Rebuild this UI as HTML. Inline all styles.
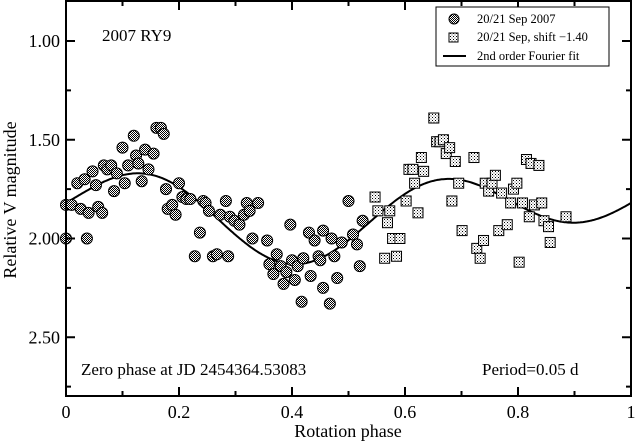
<!DOCTYPE html>
<html><head><meta charset="utf-8"><style>
html,body{margin:0;padding:0;background:#fff;}
svg{display:block;font-family:"Liberation Serif",serif;}
</style></head><body>
<svg id="chart" width="635" height="441" viewBox="0 0 635 441" xmlns="http://www.w3.org/2000/svg">
<defs>
<pattern id="pc" width="2" height="2" patternUnits="userSpaceOnUse"><rect width="2" height="2" fill="#fff"/><rect width="1" height="1" fill="#000"/><rect x="1" y="1" width="1" height="1" fill="#000"/></pattern>
<pattern id="ps" width="3" height="3" patternUnits="userSpaceOnUse"><rect width="3" height="3" fill="#fff"/><rect width="1" height="1" fill="#000"/><rect x="1.5" y="1.5" width="1" height="1" fill="#555"/></pattern>
</defs>
<g id="marks"></g>
<g id="axes"></g>
</svg>
<script>
const circlePhase=[0,0,0.01,0.02,0.026,0.033,0.037,0.04,0.047,0.053,0.057,0.064,0.067,0.073,0.08,0.085,0.09,0.1,0.104,0.11,0.12,0.124,0.128,0.134,0.14,0.146,0.155,0.16,0.168,0.173,0.177,0.18,0.188,0.194,0.2,0.206,0.213,0.22,0.228,0.237,0.243,0.247,0.253,0.26,0.267,0.273,0.283,0.287,0.29,0.298,0.307,0.315,0.32,0.325,0.33,0.34,0.356,0.36,0.367,0.373,0.38,0.385,0.39,0.397,0.4,0.405,0.41,0.417,0.42,0.43,0.433,0.44,0.447,0.45,0.455,0.455,0.467,0.47,0.475,0.48,0.488,0.5,0.508,0.515,0.52,0.525];
const circleMag=[1.83,2.00,1.83,1.72,1.85,1.70,2.00,1.87,1.66,1.73,1.84,1.87,1.63,1.65,1.63,1.76,1.67,1.54,1.72,1.63,1.48,1.58,1.62,1.71,1.55,1.65,1.57,1.44,1.44,1.47,1.75,1.85,1.83,1.88,1.72,1.79,1.80,1.80,2.09,1.97,1.81,1.82,1.86,2.09,2.08,1.88,1.81,2.09,1.89,1.91,1.93,1.88,1.82,1.86,2.00,1.82,2.01,2.13,2.18,2.08,2.14,2.23,2.17,1.93,2.11,2.21,2.14,2.32,2.10,1.97,2.19,2.01,2.09,2.11,1.96,2.25,2.33,2.00,2.09,2.20,2.02,1.81,1.98,2.03,2.14,1.91];
const squarePhase=[0.547,0.552,0.564,0.569,0.573,0.578,0.585,0.591,0.602,0.607,0.614,0.617,0.623,0.629,0.633,0.651,0.656,0.662,0.668,0.673,0.679,0.683,0.689,0.695,0.701,0.722,0.727,0.733,0.739,0.742,0.748,0.754,0.76,0.766,0.771,0.781,0.787,0.792,0.798,0.802,0.808,0.815,0.82,0.823,0.829,0.837,0.842,0.846,0.854,0.857,0.885];
const squareMag=[1.79,1.86,2.10,1.92,1.86,2.00,2.09,2.00,1.81,1.65,1.65,1.72,1.87,1.59,1.66,1.39,1.51,1.51,1.50,1.57,1.54,1.81,1.61,1.72,1.96,1.59,2.05,2.10,2.01,1.72,1.76,1.72,1.68,1.96,1.77,1.93,1.82,1.75,1.72,2.12,1.82,1.60,1.89,1.62,1.83,1.63,1.82,1.91,1.94,2.02,1.89];
// Fourier fit coefficients: a0, a1, b1, a2, b2
const fitCoef=[1.8587,-0.0942,0.0490,0.0555,-0.1568];
const xTicks=[0,0.2,0.4,0.6,0.8,1];
const xTickLabels=["0","0.2","0.4","0.6","0.8","1"];
const yTicks=[1.0,1.5,2.0,2.5];
const yTickLabels=["1.00","1.50","2.00","2.50"];

const L=66,R=631,T=1,B=396;
const X=v=>L+v*(R-L);
const Y=m=>41+(m-1)*197.5;
const NS="http://www.w3.org/2000/svg";
function mk(tag,attrs,parent){const e=document.createElementNS(NS,tag);for(const k in attrs)e.setAttribute(k,attrs[k]);parent.appendChild(e);return e;}
const marks=document.getElementById('marks'),axes=document.getElementById('axes');

let d="";
for(let i=0;i<=400;i++){const p=i/400;const w=2*Math.PI*p;
const m=fitCoef[0]+fitCoef[1]*Math.cos(w)+fitCoef[2]*Math.sin(w)+fitCoef[3]*Math.cos(2*w)+fitCoef[4]*Math.sin(2*w);
d+=(i?"L":"M")+X(p).toFixed(1)+","+Y(m).toFixed(1);}
const fit=mk('path',{d:d,fill:"none",stroke:"#000","stroke-width":2},marks);



circlePhase.forEach((p,i)=>{const c=mk('circle',{cx:X(p),cy:Y(circleMag[i]),r:5.5,fill:"url(#pc)",stroke:"#000","stroke-width":1},marks);

});
squarePhase.forEach((p,i)=>{const s=mk('rect',{x:X(p)-5,y:Y(squareMag[i])-5,width:10,height:10,fill:"url(#ps)",stroke:"#000","stroke-width":1},marks);

});

const fr=mk('rect',{x:L,y:T,width:R-L,height:B-T,fill:"none",stroke:"#000","stroke-width":2},axes);


for(let v=0;v<=1.0001;v+=0.1){const x=X(v);const major=Math.round(v*10)%2==0;const len=major?9:5;
mk('line',{x1:x,y1:B,x2:x,y2:B-len,stroke:"#000","stroke-width":2},axes);
mk('line',{x1:x,y1:T,x2:x,y2:T+len,stroke:"#000","stroke-width":2},axes);}
xTicks.forEach((v,i)=>{const t=mk('text',{x:X(v),y:418,"text-anchor":"middle","font-size":18},axes);t.textContent=xTickLabels[i];

});
for(let m=1.0;m<=2.76;m+=0.25){const y=Y(m);const major=Math.round(m*4)%2==0;const len=major?9:5;
mk('line',{x1:L,y1:y,x2:L+len,y2:y,stroke:"#000","stroke-width":2},axes);
mk('line',{x1:R,y1:y,x2:R-len,y2:y,stroke:"#000","stroke-width":2},axes);}
yTicks.forEach((v,i)=>{const t=mk('text',{x:60,y:Y(v)+6,"text-anchor":"end","font-size":18},axes);t.textContent=yTickLabels[i];

});
</script>
<svg style="position:absolute;left:0;top:0" width="635" height="441">
<text x="348" y="437" text-anchor="middle" font-size="18" font-family="Liberation Serif, serif">Rotation phase</text>
<text transform="translate(16,200) rotate(-90)" text-anchor="middle" font-size="18" font-family="Liberation Serif, serif">Relative V magnitude</text>
<text x="102" y="41" font-size="17" font-family="Liberation Serif, serif">2007 RY9</text>
<text x="81" y="375" font-size="17" font-family="Liberation Serif, serif">Zero phase at JD 2454364.53083</text>
<text x="482" y="375" font-size="17" font-family="Liberation Serif, serif">Period=0.05 d</text>
<g font-family="Liberation Serif, serif" font-size="12.5">
<rect x="436" y="7" width="173" height="59" fill="#fff" stroke="#000" stroke-width="1"/>
<circle cx="454" cy="19" r="5" fill="url(#pc)" stroke="#000"/>
<text x="477" y="23">20/21 Sep 2007</text>
<rect x="449" y="33" width="9" height="9" fill="url(#ps)" stroke="#000"/>
<text x="477" y="41">20/21 Sep, shift −1.40</text>
<line x1="443" y1="56" x2="466" y2="56" stroke="#000" stroke-width="2"/>
<text x="477" y="60">2nd order Fourier fit</text>
</g>
</svg>
</body></html>
